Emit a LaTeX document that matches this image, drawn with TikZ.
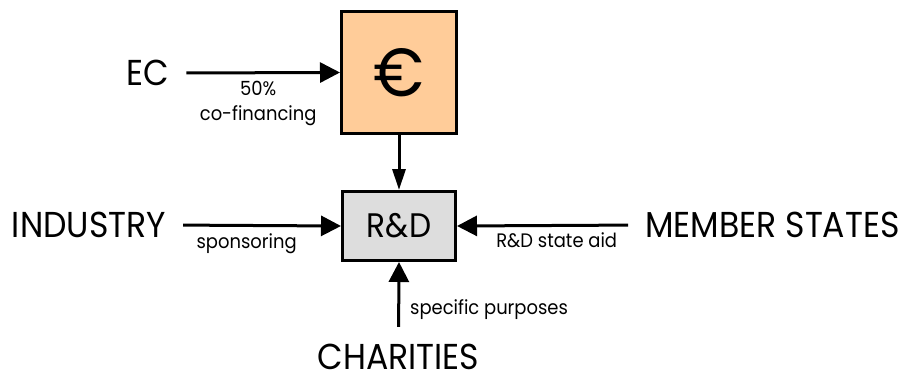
\documentclass[tikz,border=0pt]{standalone}
\usepackage{fontspec}
\setmainfont[FakeStretch=0.92]{Poppins}
\usetikzlibrary{arrows.meta,positioning}
\definecolor{eurofill}{HTML}{FFCC99}
\definecolor{rdfill}{HTML}{DDDDDD}
\tikzset{
  srcnode/.style={inner sep=0pt,font=\fontsize{36}{40}\selectfont},
  boxnode/.style={draw,line width=3pt,inner sep=0pt,align=center},
  flowlbl/.style={inner sep=0pt,align=center,font=\fontsize{19.5}{25}\selectfont},
  arr/.style={-{Triangle[length=20pt,width=20pt]},line width=3pt,shorten <=17pt},
  narr/.style={-{Triangle[length=21pt,width=13pt]},line width=3pt}
}
\begin{document}
\begin{tikzpicture}[x=1pt,y=1pt]
  \useasboundingbox (0,0) rectangle (905,376);
  % Money and research boxes
  \node[boxnode,fill=eurofill,minimum width=115pt,minimum height=122pt,font=\fontsize{68}{70}\selectfont] (euro) at (399,303.5) {€};
  \node[boxnode,fill=rdfill,minimum width=113pt,minimum height=69pt,font=\fontsize{34}{38}\selectfont] (rd) at (399,150) {R\&D};

  % Funding sources
  \node[srcnode] (ec) at (148,303) {EC};
  \node[srcnode] (ind) at (89,151) {INDUSTRY};
  \node[srcnode] (ms) at (772.5,151) {MEMBER STATES};
  \node[srcnode] (char) at (398.5,19) {CHARITIES};

  % Funding flows
  \draw[arr] (ec.east) -- node[flowlbl,below=7pt,pos=0.52] {50\%\\co-financing} (euro.west);
  \draw[narr] (euro.south) -- (rd.north);
  \draw[arr] (ind.east) -- node[flowlbl,below=7pt,pos=0.46] {sponsoring} (rd.west);
  \draw[arr] (ms.west) -- node[flowlbl,below=6pt,pos=0.47] {R\&D state aid} (rd.east);
  \draw[arr] (char.north) -- node[flowlbl,right=10pt,pos=0.42] {specific purposes} (rd.south);
\end{tikzpicture}
\end{document}
